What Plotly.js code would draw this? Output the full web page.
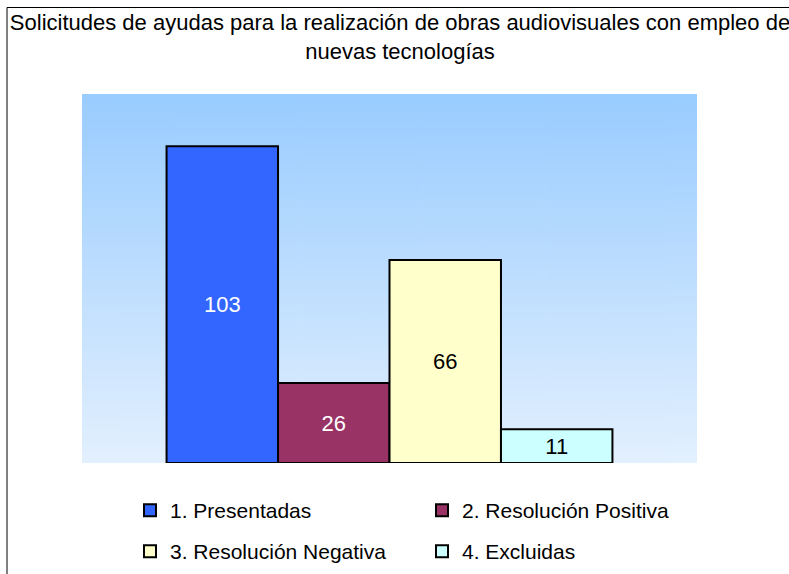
<!DOCTYPE html>
<html>
<head>
<meta charset="utf-8">
<script src="https://cdn.plot.ly/plotly-3.0.1.min.js"></script>
<style>
  html, body { margin: 0; padding: 0; background: #ffffff; }
  #chart { width: 789px; height: 574px; }
</style>
</head>
<body>
<div id="chart"></div>
<script>
// ---- data ----
const titleText = "Solicitudes de ayudas para la realización de obras audiovisuales con empleo de<br>nuevas tecnologías";
const category = [""];
const seriesNames = ["1. Presentadas", "2. Resolución Positiva", "3. Resolución Negativa", "4. Excluidas"];
const seriesValues = [103, 26, 66, 11];
const seriesColors = ["#3366FF", "#993366", "#FFFFCC", "#CCFFFF"];
const labelColors = ["#FFFFFF", "#FFFFFF", "#000000", "#000000"];
const legendGroups = ["legend", "legend", "legend2", "legend2"];

// ---- layout geometry (pixels) ----
const W = 789, H = 574;
const M = { l: 82, r: 92, t: 94, b: 111, autoexpand: false };
const PW = W - M.l - M.r, PH = H - M.t - M.b;
const px2x = (px) => (px - M.l) / PW;
const py2y = (py) => 1 - (py - M.t) / PH;

// gradient background image for plot area
const cv = document.createElement("canvas");
cv.width = 10; cv.height = 200;
const ctx = cv.getContext("2d");
const g = ctx.createLinearGradient(0, 0, 0, 200);
g.addColorStop(0, "#99CCFF");
g.addColorStop(1, "#E3F0FE");
ctx.fillStyle = g;
ctx.fillRect(0, 0, 10, 200);
const bgURL = cv.toDataURL("image/png");

const font = "Liberation Sans, Arial, sans-serif";

const traces = seriesNames.map((name, i) => ({
  type: "bar",
  name: name,
  legend: legendGroups[i],
  x: category,
  y: [seriesValues[i]],
  text: [String(seriesValues[i])],
  textposition: "inside",
  insidetextanchor: "middle",
  constraintext: "none",
  textangle: 0,
  textfont: { family: font, size: 22, color: labelColors[i] },
  marker: { color: seriesColors[i], line: { color: "#000000", width: 2 } },
  hoverinfo: "skip"
}));

const legendCommon = {
  orientation: "h",
  xref: "container", yref: "container",
  xanchor: "left", yanchor: "top",
  entrywidth: 247, entrywidthmode: "pixels",
  itemwidth: 30,
  font: { family: font, size: 21, color: "#000000" },
  bgcolor: "rgba(0,0,0,0)",
  traceorder: "normal"
};

const layout = {
  width: W, height: H,
  margin: M,
  paper_bgcolor: "#FFFFFF",
  plot_bgcolor: "rgba(0,0,0,0)",
  font: { family: font, size: 21, color: "#000000" },
  title: {
    text: titleText,
    font: { family: font, size: 22, color: "#000000" },
    x: 400 / W, xref: "container", xanchor: "center",
    y: 1 - 30 / H, yref: "container", yanchor: "top"
  },
  barmode: "group",
  bargap: 0.275,
  bargroupgap: 0,
  xaxis: { visible: false, fixedrange: true },
  yaxis: { visible: false, range: [0, 120], fixedrange: true },
  showlegend: true,
  legend: Object.assign({}, legendCommon, { x: 130 / W, y: 1 - 490 / H }),
  legend2: Object.assign({}, legendCommon, { x: 130 / W, y: 1 - 531 / H }),
  images: [{
    source: bgURL, xref: "paper", yref: "paper",
    x: 0, y: 1, sizex: 1, sizey: 1,
    xanchor: "left", yanchor: "top",
    sizing: "stretch", layer: "below"
  }],
  shapes: [{
    type: "path", xref: "paper", yref: "paper",
    path: "M " + px2x(7) + " " + py2y(H + 5) + " L " + px2x(7) + " " + py2y(7.5) + " L " + px2x(W + 5) + " " + py2y(7.5),
    line: { color: "#000000", width: 1 }
  }]
};

Plotly.newPlot("chart", traces, layout, { staticPlot: true, displayModeBar: false });
</script>
</body>
</html>
